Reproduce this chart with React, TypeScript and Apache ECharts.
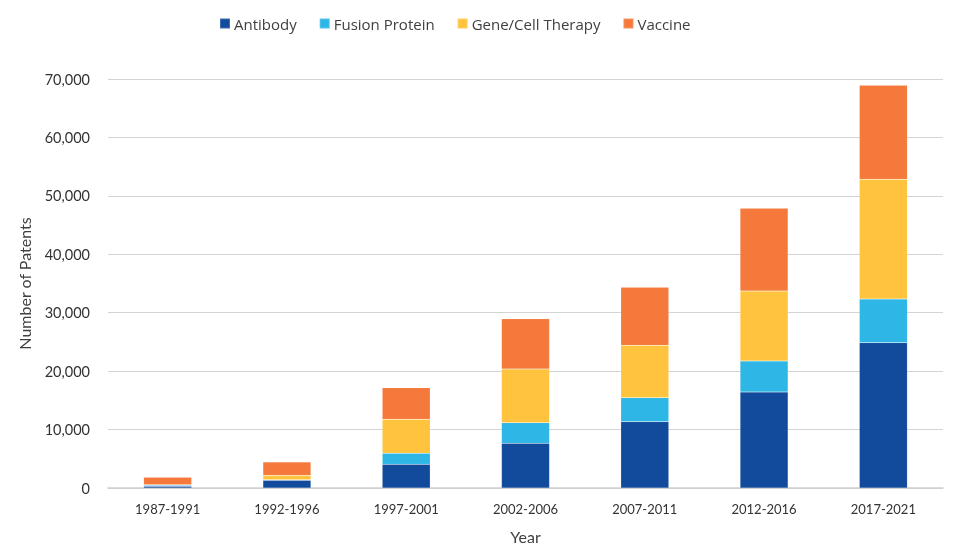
import React, { useEffect, useRef } from "react";
import * as echarts from "echarts";

const categories = ["1987-1991", "1992-1996", "1997-2001", "2002-2006", "2007-2011", "2012-2016", "2017-2021"];
const antibody = [300, 1320, 4060, 7650, 11350, 16430, 24870];
const fusionProtein = [150, 100, 1880, 3530, 4100, 5310, 7480];
const geneCellTherapy = [100, 750, 5820, 9190, 8970, 11980, 20480];
const vaccine = [1300, 2280, 5410, 8600, 9930, 14150, 16090];
const seriesNames = ["Antibody", "Fusion Protein", "Gene/Cell Therapy", "Vaccine"];
const colors = ["#124A9C", "#2DB6E6", "#FFC33D", "#F4793B"];

export default function App() {
  const ref = useRef<HTMLDivElement>(null);
  useEffect(() => {
    if (!ref.current) return;
    const chart = echarts.init(ref.current, null, { renderer: "svg" });
    const data = [antibody, fusionProtein, geneCellTherapy, vaccine];
    chart.setOption({
      animation: false,
      textStyle: { fontFamily: "Lato" },
      legend: {
        top: 11,
        left: 214,
        itemWidth: 10,
        itemHeight: 10,
        itemGap: 22,
        icon: "rect",
        textStyle: { fontFamily: "Open Sans", fontSize: 15, color: "#404040", padding: [0, 0, 0, -1] },
        data: seriesNames,
      },
      grid: { left: 108, right: 12, top: 79, bottom: 63 },
      xAxis: {
        type: "category",
        data: categories,
        name: "Year",
        nameLocation: "middle",
        nameGap: 40,
        nameTextStyle: { fontSize: 16, color: "#404040", fontFamily: "Lato" },
        axisLine: { lineStyle: { color: "#d0d0d0", width: 1.5 } },
        axisTick: { show: false },
        axisLabel: { fontSize: 13, color: "#333", margin: 14 },
      },
      yAxis: {
        type: "value",
        min: 0,
        max: 70000,
        interval: 10000,
        name: "Number of Patents",
        nameLocation: "middle",
        nameGap: 76,
        nameTextStyle: { fontSize: 16, color: "#404040", fontFamily: "Lato" },
        axisLine: { show: false },
        axisTick: { show: false },
        splitLine: { lineStyle: { color: "#d4d4d4", width: 1 } },
        axisLabel: {
          fontSize: 14.5,
          color: "#333",
          margin: 18,
          formatter: (v: number) => v.toLocaleString("en-US"),
        },
      },
      series: seriesNames.map((name, i) => ({
        name,
        type: "bar",
        stack: "total",
        barWidth: 48,
        data: data[i],
        itemStyle: { color: colors[i], borderColor: "rgba(255,255,255,0.2)", borderWidth: 0.5 },
      })),
    });
    return () => chart.dispose();
  }, []);
  return <div ref={ref} style={{ position: "fixed", left: 0, top: 0, width: 955, height: 551 }} />;
}
